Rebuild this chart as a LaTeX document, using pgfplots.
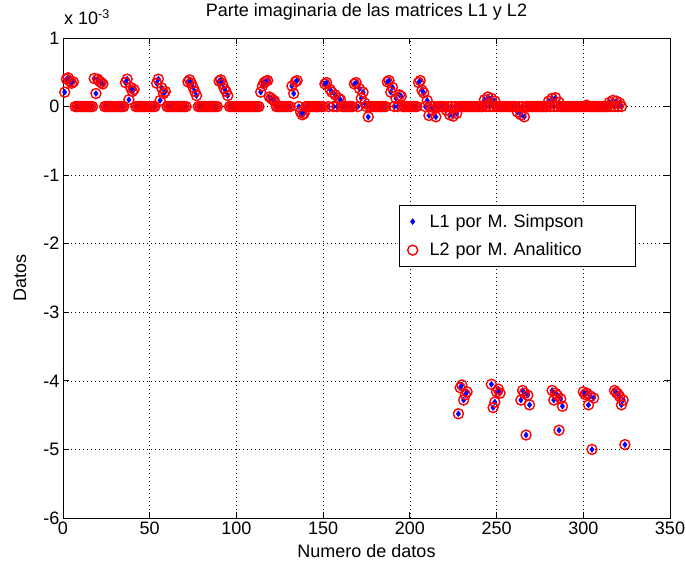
\documentclass[border=0pt]{standalone}
\usepackage{fontspec}
\setmainfont{Liberation Sans}
\usepackage{pgfplots}
\usepackage{pgfplotstable}
\pgfplotsset{compat=1.18}
\pgfplotstableread[row sep=\\]{
x y\\
1 0.21\\2 0.40\\3 0.42\\4 0.37\\5 0.34\\6 0.36\\
18 0.41\\19 0.19\\20 0.40\\21 0.37\\22 0.35\\23 0.33\\
36 0.35\\37 0.40\\38 0.10\\39 0.28\\40 0.22\\41 0.25\\
54 0.34\\55 0.40\\56 0.09\\57 0.27\\58 0.19\\59 0.22\\
72 0.36\\73 0.39\\74 0.34\\75 0.28\\76 0.22\\77 0.16\\
90 0.37\\91 0.39\\92 0.33\\93 0.26\\94 0.22\\95 0.16\\
114 0.21\\115 0.30\\116 0.35\\117 0.37\\118 0.38\\119 0.14\\120 0.12\\121 0.10\\122 0.08\\
132 0.30\\133 0.19\\134 0.36\\135 0.38\\137 -0.08\\138 -0.12\\139 -0.10\\
151 0.33\\152 0.35\\154 0.25\\155 0.21\\157 0.17\\159 0.12\\160 0.10\\
168 0.33\\169 0.35\\171 0.26\\172 0.12\\173 0.21\\174 0.05\\176 -0.15\\
187 0.36\\188 0.38\\189 0.21\\190 0.28\\192 0.12\\194 0.17\\195 0.15\\
205 0.35\\206 0.38\\207 0.24\\208 0.20\\210 0.09\\211 -0.13\\213 -0.05\\215 -0.15\\
221 -0.05\\223 -0.12\\225 -0.14\\227 -0.10\\
243 0.10\\245 0.14\\247 0.12\\249 0.08\\
262 -0.08\\264 -0.12\\266 -0.15\\
280 0.08\\282 0.12\\284 0.13\\286 0.06\\
302 0.02\\
315 0.06\\317 0.09\\319 0.08\\321 0.05\\
228 -4.48\\229 -4.10\\230 -4.06\\231 -4.28\\232 -4.20\\233 -4.16\\
247 -4.05\\248 -4.39\\249 -4.31\\250 -4.16\\251 -4.12\\252 -4.18\\
264 -4.28\\265 -4.14\\266 -4.18\\267 -4.79\\268 -4.21\\269 -4.35\\
282 -4.14\\283 -4.28\\284 -4.18\\285 -4.21\\286 -4.72\\287 -4.26\\288 -4.37\\
300 -4.16\\301 -4.20\\302 -4.18\\303 -4.35\\304 -4.22\\305 -5.00\\306 -4.25\\
318 -4.14\\319 -4.17\\320 -4.19\\321 -4.23\\322 -4.35\\323 -4.28\\324 -4.93\\
7 0\\8 0\\9 0\\10 0\\11 0\\12 0\\13 0\\14 0\\15 0\\16 0\\17 0\\
24 0\\25 0\\26 0\\27 0\\28 0\\29 0\\30 0\\31 0\\32 0\\33 0\\34 0\\35 0\\
42 0\\43 0\\44 0\\45 0\\46 0\\47 0\\48 0\\49 0\\50 0\\51 0\\52 0\\53 0\\
60 0\\61 0\\62 0\\63 0\\64 0\\65 0\\66 0\\67 0\\68 0\\69 0\\70 0\\71 0\\
78 0\\79 0\\80 0\\81 0\\82 0\\83 0\\84 0\\85 0\\86 0\\87 0\\88 0\\89 0\\
96 0\\97 0\\98 0\\99 0\\100 0\\101 0\\102 0\\103 0\\104 0\\105 0\\106 0\\107 0\\108 0\\109 0\\110 0\\111 0\\112 0\\113 0\\
123 0\\124 0\\125 0\\126 0\\127 0\\128 0\\129 0\\130 0\\131 0\\136 0\\
140 0\\141 0\\142 0\\143 0\\144 0\\145 0\\146 0\\147 0\\148 0\\149 0\\150 0\\
153 0\\156 0\\158 0\\161 0\\162 0\\163 0\\164 0\\165 0\\166 0\\167 0\\170 0\\175 0\\
177 0\\178 0\\179 0\\180 0\\181 0\\182 0\\183 0\\184 0\\185 0\\186 0\\191 0\\193 0\\
196 0\\197 0\\198 0\\199 0\\200 0\\201 0\\202 0\\203 0\\204 0\\209 0\\212 0\\214 0\\
216 0\\217 0\\218 0\\219 0\\220 0\\222 0\\224 0\\226 0\\
228 0\\229 0\\230 0\\231 0\\232 0\\233 0\\234 0\\235 0\\236 0\\237 0\\238 0\\239 0\\240 0\\241 0\\242 0\\
244 0\\246 0\\248 0\\
250 0\\251 0\\252 0\\253 0\\254 0\\255 0\\256 0\\257 0\\258 0\\259 0\\260 0\\261 0\\263 0\\265 0\\
267 0\\268 0\\269 0\\270 0\\271 0\\272 0\\273 0\\274 0\\275 0\\276 0\\277 0\\278 0\\279 0\\
281 0\\283 0\\285 0\\
287 0\\288 0\\289 0\\290 0\\291 0\\292 0\\293 0\\294 0\\295 0\\296 0\\297 0\\298 0\\299 0\\300 0\\301 0\\
303 0\\304 0\\305 0\\306 0\\307 0\\308 0\\309 0\\310 0\\311 0\\312 0\\313 0\\314 0\\
316 0\\318 0\\320 0\\322 0\\
}\datatab
\begin{document}
\begin{tikzpicture}
\useasboundingbox (-63bp,-49bp) rectangle (623bp,518bp);
\begin{axis}[
  scale only axis, width=607bp, height=480bp,
  xmin=0, xmax=350, ymin=-6, ymax=1,
  xtick={0,50,...,350}, ytick={-6,-5,...,1},
  clip mode=individual,
  grid=major,
  major grid style={black, line width=0.7bp, dash pattern=on 0.7bp off 3.3bp},
  tick align=inside, xtick pos=both, ytick pos=both,
  major tick length=6bp,
  axis line style={line width=0.8bp},
  tick style={black, line width=0.8bp},
  /pgf/number format/assume math mode=true,
  every tick label/.append style={font=\fontsize{18bp}{21bp}\selectfont},
  every axis title shift=0pt,
  title={Parte imaginaria de las matrices L1 y L2},
  title style={font=\fontsize{18bp}{21bp}\selectfont, at={(axis description cs:0.5,1.054)}, anchor=center},
  xlabel={Numero de datos},
  xlabel style={font=\fontsize{18bp}{21bp}\selectfont, at={(axis description cs:0.5,-0.069)}, anchor=center},
  ylabel={Datos},
  ylabel style={font=\fontsize{18bp}{21bp}\selectfont, at={(axis description cs:-0.071,0.5)}, anchor=center},
  legend cell align=left,
  legend style={at={(0.944,0.652)}, anchor=north east, draw=black, line width=0.6bp,
    font=\fontsize{18bp}{21bp}\selectfont, inner xsep=8bp, inner ysep=6bp, row sep=8bp,
    /tikz/every odd column/.append style={column sep=9bp},
    nodes={inner sep=3bp, text width=195bp, align=left}},
]
\addplot[only marks, mark=diamond*, mark size=3bp, color=blue, mark options={line width=0.4bp}] table[x=x,y=y] {\datatab};
\addlegendentry{L1 por M. Simpson}
\addplot[only marks, mark=o, mark size=5bp, color=red, mark options={line width=1.4bp}] table[x=x,y=y] {\datatab};
\addlegendentry{L2 por M. Analitico}
\node[anchor=base west, font=\fontsize{18bp}{21bp}\selectfont, inner sep=0pt, yshift=13bp, xshift=1bp] at (axis description cs:0,1) {x 10\textsuperscript{-3}};
\end{axis}
\end{tikzpicture}
\end{document}
